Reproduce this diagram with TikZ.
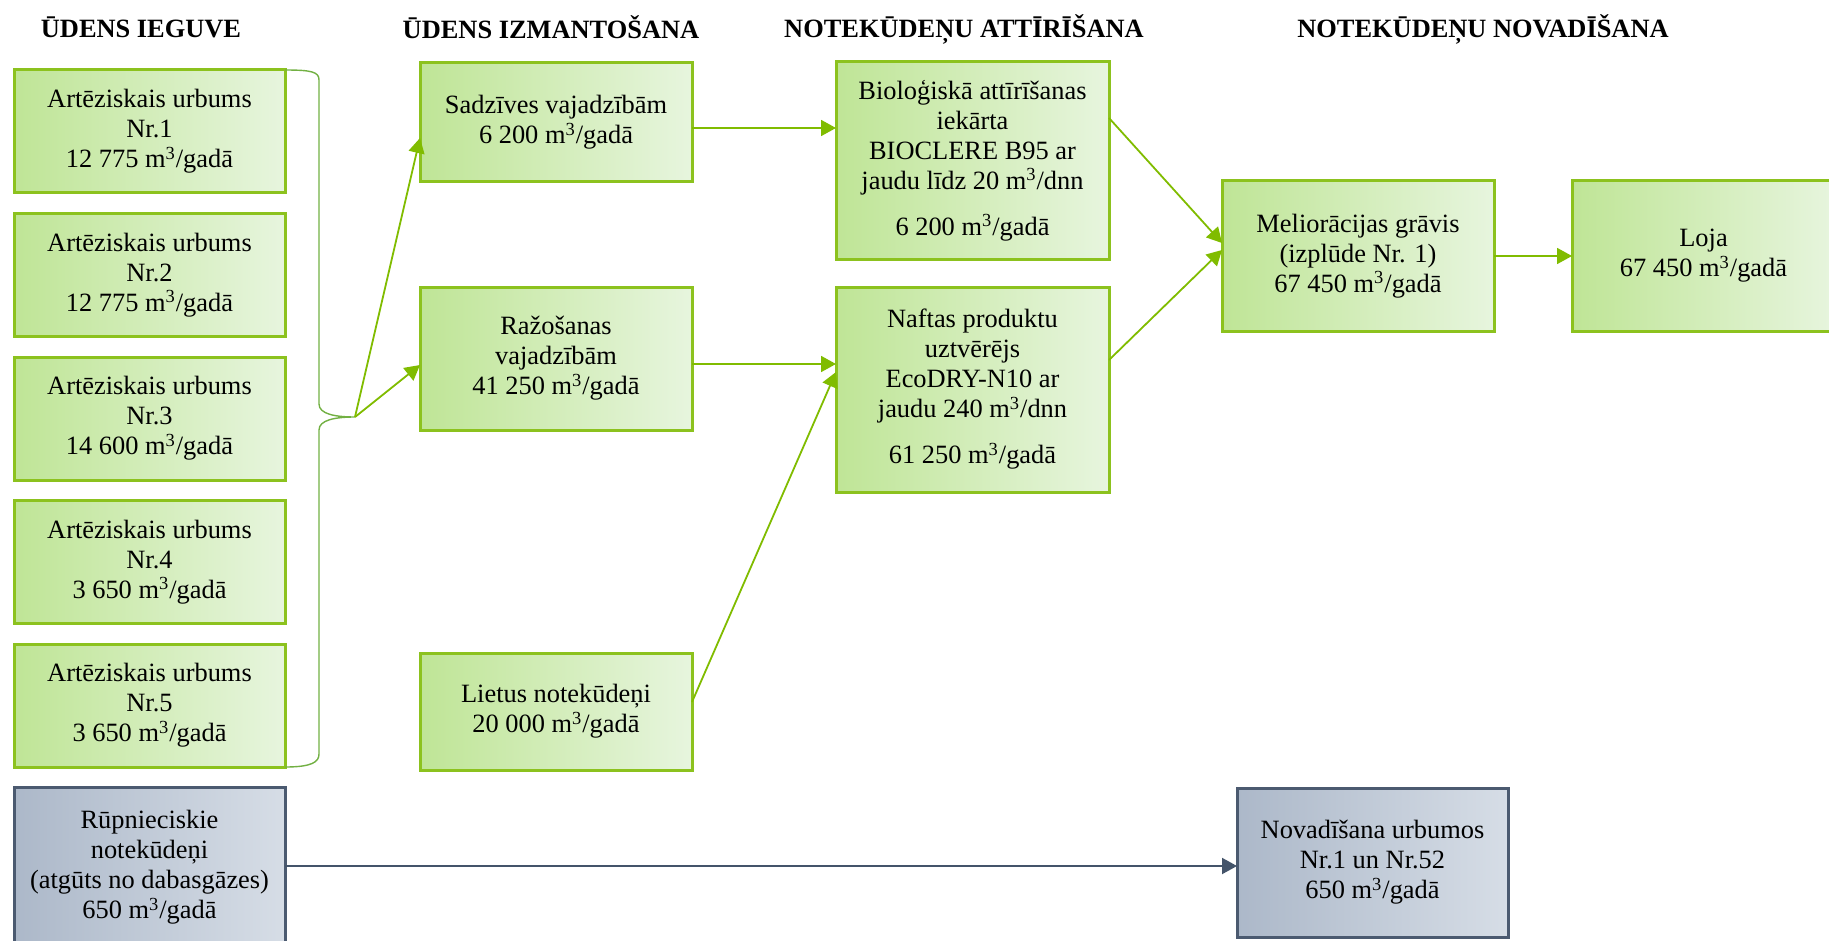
\documentclass[tikz,border=0pt]{standalone}
\usepackage{fontspec}
\setmainfont{Liberation Serif}
\usetikzlibrary{positioning,arrows.meta}
\definecolor{grnline}{HTML}{8CC21E}
\definecolor{grnL}{HTML}{BFE596}
\definecolor{grnR}{HTML}{E7F5DE}
\definecolor{grnarrow}{HTML}{80BC00}
\definecolor{brcline}{HTML}{72B043}
\definecolor{slateline}{HTML}{4B5A70}
\definecolor{slateL}{HTML}{ACB8C9}
\definecolor{slateR}{HTML}{D6DDE6}
\definecolor{slatearrow}{HTML}{44546A}

\begin{document}
\begin{tikzpicture}[x=0.5pt, y=-0.5pt,
      node distance=10.25pt,                                % gap between the wells
      font=\fontsize{13.2}{15}\selectfont,
      gbox/.style={draw=grnline, line width=1.5pt, left color=grnL, right color=grnR,
                   align=center, inner sep=2pt, outer sep=0pt, minimum width=135.5pt,
                   execute at begin node={\rule{0pt}{13.5pt}}},   % green step
      sbox/.style={draw=slateline, line width=1.5pt, left color=slateL, right color=slateR,
                   align=center, inner sep=2pt, outer sep=0pt, minimum width=135.5pt,
                   execute at begin node={\rule{0pt}{13.5pt}}},   % grey step
      hdr/.style={font=\fontsize{13.2}{15}\selectfont\bfseries},          % column heading
      arr/.style={draw=grnarrow, line width=0.9pt, -{Triangle[length=7.5pt,width=8pt]}},
      sarr/.style={draw=slatearrow, line width=1pt, -{Triangle[length=7.5pt,width=8pt]}},
      brc/.style={draw=brcline, line width=0.7pt}]
    \useasboundingbox (0,0) rectangle (1829,941);
    % column headings
    \node[hdr] (hIeg) at (141,27)  {ŪDENS IEGUVE};
    \node[hdr] (hIzm) at (551,27)  {ŪDENS IZMANTOŠANA};
    \node[hdr] (hAtt) at (964,29)  {NOTEKŪDEŅU ATTĪRĪŠANA};
    \node[hdr] (hNov) at (1483,29) {NOTEKŪDEŅU NOVADĪŠANA};
    % wells
    \node[gbox, minimum height=61.5pt] (w1) at (149.5,131.5)
      {Artēziskais urbums\\Nr.1\\12 775 m\textsuperscript{3}/gadā};
    \node[gbox, minimum height=61.5pt, below=of w1] (w2)
      {Artēziskais urbums\\Nr.2\\12 775 m\textsuperscript{3}/gadā};
    \node[gbox, minimum height=61.5pt, below=of w2] (w3)
      {Artēziskais urbums\\Nr.3\\14 600 m\textsuperscript{3}/gadā};
    \node[gbox, minimum height=61.5pt, below=of w3] (w4)
      {Artēziskais urbums\\Nr.4\\3 650 m\textsuperscript{3}/gadā};
    \node[gbox, minimum height=61.5pt, below=of w4] (w5)
      {Artēziskais urbums\\Nr.5\\3 650 m\textsuperscript{3}/gadā};
    \node[sbox, minimum height=80pt, below=of w5] (rup)
      {Rūpnieciskie\\notekūdeņi\\(atgūts no dabasgāzes)\\650 m\textsuperscript{3}/gadā};
    % use
    \node[gbox, minimum width=136pt, minimum height=59.5pt] (sadz) at (556,122.5)
      {Sadzīves vajadzībām\\6 200 m\textsuperscript{3}/gadā};
    \node[gbox, minimum width=136pt, minimum height=71.5pt, below=52.5pt of sadz] (razo)
      {Ražošanas\\vajadzībām\\41 250 m\textsuperscript{3}/gadā};
    \node[gbox, minimum width=136pt, minimum height=58.5pt, below=111.5pt of razo] (liet)
      {Lietus notekūdeņi\\20 000 m\textsuperscript{3}/gadā};
    % treatment
    \node[gbox, minimum width=136.5pt, minimum height=98.5pt] (bio) at (972.5,160.5)
      {Bioloģiskā attīrīšanas\\iekārta\\BIOCLERE B95 ar\\jaudu līdz 20 m\textsuperscript{3}/dnn\\[8pt]6 200 m\textsuperscript{3}/gadā};
    \node[gbox, minimum width=136.5pt, minimum height=102.5pt, below=14pt of bio] (naft)
      {Naftas produktu\\uztvērējs\\EcoDRY-N10 ar\\jaudu 240 m\textsuperscript{3}/dnn\\[8pt]61 250 m\textsuperscript{3}/gadā};
    % discharge
    \node[gbox, minimum width=136pt, minimum height=75pt] (mel) at (1358,256)
      {Meliorācijas grāvis\\(izplūde Nr. 1)\\67 450 m\textsuperscript{3}/gadā};
    \node[gbox, minimum width=131.5pt, minimum height=75pt, right=39pt of mel] (loja)
      {Loja\\67 450 m\textsuperscript{3}/gadā};
    \node[sbox, minimum height=74.5pt] (nov) at (1372.5,862.5)
      {Novadīšana urbumos\\Nr.1 un Nr.52\\650 m\textsuperscript{3}/gadā};
    % brace gathering the wells
    \coordinate (tip) at (355,417);
    \draw[brc] (w1.north east) .. controls (312,70) and (319,72) .. (319,80)
      -- (319,404) .. controls (319,414) and (335,417) .. (tip)
      .. controls (335,417) and (319,420) .. (319,430)
      -- (319,754) .. controls (319,762) and (312,767) .. (w5.south east);
    \foreach \a/\sa/\b/\sb in {tip/0/sadz.west/-7.75, tip/0/razo.west/-3.25,
                               sadz.east/-2.75/bio.west/16.25,
                               razo.east/-2.75/naft.west/12.75,
                               liet.east/4.75/naft.west/8.75,
                               bio.east/21.25/mel.west/6.5,
                               naft.east/14.75/mel.west/3,
                               mel.east/0/loja.west/0}
      \draw[arr] ([yshift=\sa pt]\a) -- ([yshift=\sb pt]\b);
    \draw[sarr] ([yshift=0.75pt]rup.east) -- ([yshift=-1.75pt]nov.west);
\end{tikzpicture}
\end{document}
